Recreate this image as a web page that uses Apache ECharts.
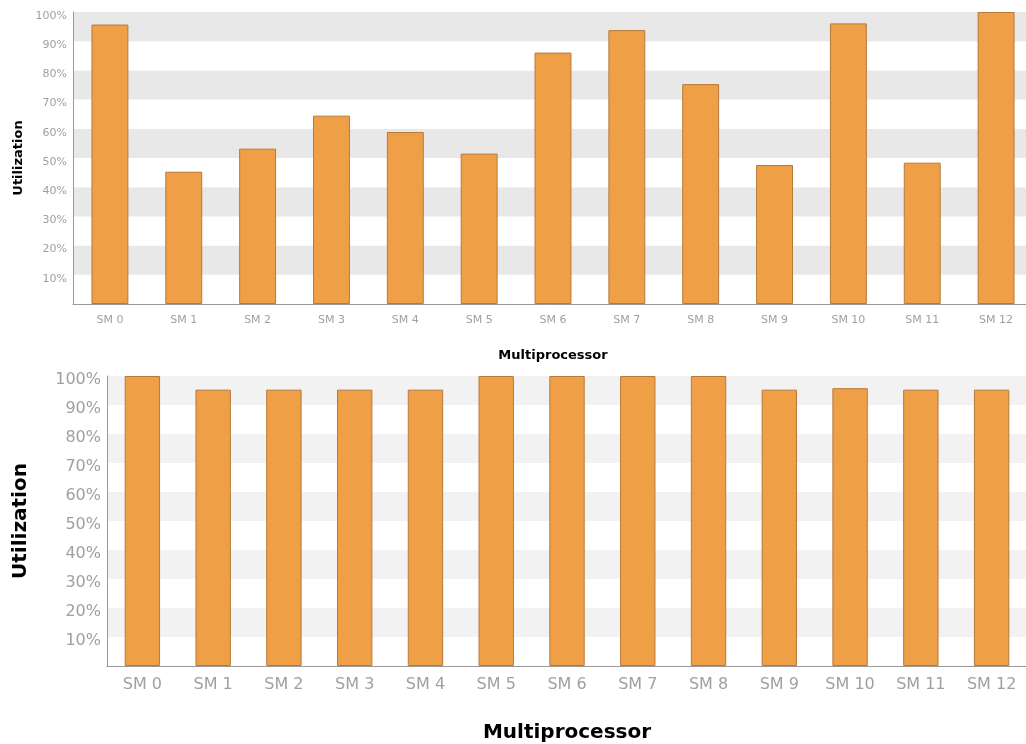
<!DOCTYPE html>
<html>
<head>
<meta charset="utf-8">
<title>SM Utilization</title>
<script src="https://cdn.jsdelivr.net/npm/echarts@6/dist/echarts.min.js"></script>
<style>
  html, body { margin: 0; padding: 0; background: #fff; }
  #chart { width: 1026px; height: 744px; }
</style>
</head>
<body>
<div id="chart"></div>
<script>
// Multiprocessor names shared by both panels
const categories = ['SM 0', 'SM 1', 'SM 2', 'SM 3', 'SM 4', 'SM 5', 'SM 6',
                    'SM 7', 'SM 8', 'SM 9', 'SM 10', 'SM 11', 'SM 12'];

// Utilization per multiprocessor, in percent
const utilizationTop = [95.7, 45.3, 53.2, 64.5, 58.9, 51.5, 86.1, 93.8, 75.3, 47.6, 96.1, 48.4, 100];
const utilizationBottom = [100, 95.3, 95.3, 95.3, 95.3, 100, 100, 100, 100, 95.3, 95.8, 95.3, 95.3];

// Y tick values (percent)
const yMin = 0, yMax = 100, yStep = 10;

const FONT = 'DejaVu Sans';
const BAR_FILL = '#EFA047';
const BAR_EDGE = '#B7793A';
const AXIS_GREY = '#9a9a9a';
const LABEL_GREY = '#a0a0a0';

// percent tick text, sitting slightly below its gridline
function pctLabel(v) { return v === 0 ? '' : '{p|' + v + '%}'; }

function yAxisFor(gridIndex, fontSize, nameSize, nameGap, band) {
  return {
    gridIndex, type: 'value', min: yMin, max: yMax, interval: yStep,
    name: 'Utilization', nameLocation: 'middle', nameGap,
    nameTextStyle: { fontFamily: FONT, fontWeight: 'bold', fontSize: nameSize, color: '#000' },
    axisLine: { show: true, lineStyle: { color: AXIS_GREY, width: 1 } },
    axisTick: { show: false },
    axisLabel: {
      formatter: pctLabel, fontFamily: FONT, fontSize, color: LABEL_GREY, margin: 6,
      rich: { p: { fontFamily: FONT, fontSize, color: LABEL_GREY, padding: [8, 0, 0, 0] } }
    },
    splitLine: { show: false },
    splitArea: { show: true, areaStyle: { color: ['#ffffff', band] } }
  };
}

function xAxisFor(gridIndex, fontSize, nameSize, nameGap, margin) {
  return {
    gridIndex, type: 'category', data: categories,
    name: 'Multiprocessor', nameLocation: 'middle', nameGap,
    nameTextStyle: { fontFamily: FONT, fontWeight: 'bold', fontSize: nameSize, color: '#000' },
    axisLine: { show: true, lineStyle: { color: AXIS_GREY, width: 1 } },
    axisTick: { show: false },
    axisLabel: { fontFamily: FONT, fontSize, color: LABEL_GREY, margin, interval: 0 },
    splitLine: { show: false }
  };
}

function barsFor(index, data) {
  return {
    type: 'bar', xAxisIndex: index, yAxisIndex: index, data,
    barWidth: '50%',
    itemStyle: { color: BAR_FILL, borderColor: BAR_EDGE, borderWidth: 1 },
    silent: true
  };
}

const chart = echarts.init(document.getElementById('chart'), null, { renderer: 'canvas' });
chart.setOption({
  animation: false,
  backgroundColor: '#ffffff',
  grid: [
    { left: 73, top: 12, width: 960, height: 292, containLabel: false, outerBoundsMode: 'none' },
    { left: 107, top: 376, width: 920, height: 290, containLabel: false, outerBoundsMode: 'none' }
  ],
  xAxis: [
    xAxisFor(0, 11, 13, 45, 11),
    xAxisFor(1, 16, 20, 57, 11)
  ],
  yAxis: [
    yAxisFor(0, 11, 13, 48, '#e8e8e8'),
    yAxisFor(1, 16, 20, 76, '#f2f2f2')
  ],
  series: [
    barsFor(0, utilizationTop),
    barsFor(1, utilizationBottom)
  ]
});
</script>
</body>
</html>
